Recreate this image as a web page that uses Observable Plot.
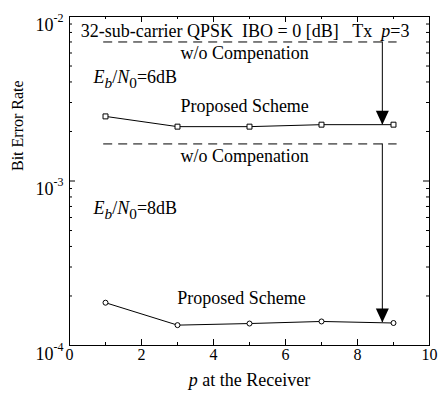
<!DOCTYPE html>
<html><head><meta charset="utf-8">
<script src="https://cdn.jsdelivr.net/npm/d3@7"></script>
<script src="https://cdn.jsdelivr.net/npm/@observablehq/plot@0.6"></script>
<style>
body{margin:0;background:#fff}
svg{font-family:"Liberation Serif","DejaVu Serif",serif;background:#fff}
</style>
</head><body><div id="chart"></div>
<script>
// ---- data ----
const pValues = [1, 3, 5, 7, 9];
const ber6dB = [2.47e-3, 2.14e-3, 2.14e-3, 2.2e-3, 2.2e-3];
const ber8dB = [1.82e-4, 1.33e-4, 1.36e-4, 1.40e-4, 1.37e-4];
const woComp6dB = 7.0e-3;
const woComp8dB = 1.68e-3;
const woCompRange = [0.95, 9.1];
const arrowP = 8.69;
const arrowTip6dB = 2.2e-3;
const arrowTip8dB = 1.38e-4;
const xMajorTicks = [0, 2, 4, 6, 8, 10];
const xMinorTicks = [1, 3, 5, 7, 9];
const yMajorTicks = [1e-4, 1e-3, 1e-2];
const yTickExponents = ["-4", "-3", "-2"];
const yMinorTicks = [2e-4, 3e-4, 4e-4, 5e-4, 6e-4, 7e-4, 8e-4, 9e-4,
                     2e-3, 3e-3, 4e-3, 5e-3, 6e-3, 7e-3, 8e-3, 9e-3];
const xLabel = "p at the Receiver";
const yLabel = "Bit Error Rate";
const titleText = "32-sub-carrier QPSK\u00a0\u00a0IBO = 0 [dB]\u00a0\u00a0\u00a0Tx\u00a0\u00a0p=3";
const lblWo = "w/o Compenation";
const lblProp = "Proposed Scheme";
const lbl6 = "Eb/N0=6dB";
const lbl8 = "Eb/N0=8dB";

const s6 = pValues.map((p, i) => ({p, ber: ber6dB[i]}));
const s8 = pValues.map((p, i) => ({p, ber: ber8dB[i]}));
const dashed = [woComp6dB, woComp8dB];
const arrows = [{p: arrowP, from: woComp6dB, to: arrowTip6dB}, {p: arrowP, from: woComp8dB, to: arrowTip8dB}];

const W = 440, H = 402, mL = 69, mR = 11, mT = 16, mB = 57;
const innerW = W - mL - mR, innerH = H - mT - mB;
const maj = 6, mnr = 3;

const plot = Plot.plot({
  width: W, height: H,
  marginLeft: mL, marginRight: mR, marginTop: mT, marginBottom: mB,
  x: {domain: [0, 10]},
  y: {type: "log", domain: [1e-4, 1e-2]},
  axis: null,
  style: {fontFamily: "'Liberation Serif', serif", color: "black", background: "white"},
  marks: [
    Plot.frame({stroke: "black"}),
    // inward ticks
    Plot.ruleX(xMajorTicks, {x: d => d, insetTop: innerH - maj, stroke: "black"}),
    Plot.ruleX(xMajorTicks, {x: d => d, insetBottom: innerH - maj, stroke: "black"}),
    Plot.ruleX(xMinorTicks, {x: d => d, insetTop: innerH - mnr, stroke: "black"}),
    Plot.ruleX(xMinorTicks, {x: d => d, insetBottom: innerH - mnr, stroke: "black"}),
    Plot.ruleY(yMajorTicks, {y: d => d, insetRight: innerW - maj, stroke: "black"}),
    Plot.ruleY(yMajorTicks, {y: d => d, insetLeft: innerW - maj, stroke: "black"}),
    Plot.ruleY(yMinorTicks, {y: d => d, insetRight: innerW - mnr, stroke: "black"}),
    Plot.ruleY(yMinorTicks, {y: d => d, insetLeft: innerW - mnr, stroke: "black"}),
    // tick labels
    Plot.text(xMajorTicks, {x: d => d, y: yMajorTicks[0], text: d => String(d), dy: 14, lineAnchor: "bottom", fontSize: 16, fill: "black"}),
    Plot.text(yMajorTicks, {x: 0, y: d => d, text: () => "10", dx: -16, dy: 14, textAnchor: "end", lineAnchor: "bottom", fontSize: 18, fill: "black"}),
    Plot.text(yMajorTicks, {x: 0, y: d => d, text: (d, i) => yTickExponents[i], dx: -16, dy: 5, textAnchor: "start", lineAnchor: "bottom", fontSize: 12, fill: "black"}),
    // axis labels
    Plot.text([xLabel], {frameAnchor: "bottom", text: d => d, dy: 40, lineAnchor: "bottom", fontSize: 18, fill: "black"}),
    Plot.text([yLabel], {frameAnchor: "left", text: d => d, rotate: -90, dx: -52, dy: -10, fontSize: 16, fill: "black"}),
    // dashed w/o compensation
    Plot.ruleY(dashed, {y: d => d, x1: woCompRange[0], x2: woCompRange[1], stroke: "black", strokeDasharray: "9,6"}),
    // arrows
    Plot.ruleX(arrows, {x: "p", y1: "from", y2: "to", stroke: "black"}),
    Plot.vector(arrows, {x: "p", y: "to", rotate: 180, length: 14, shape: "spike", r: 6.5, anchor: "end", fill: "black", stroke: "none"}),
    // series
    Plot.line(s6, {x: "p", y: "ber", stroke: "black", strokeWidth: 1}),
    Plot.dot(s6, {x: "p", y: "ber", symbol: "square", r: 2.8, stroke: "black", fill: "white", strokeWidth: 1}),
    Plot.line(s8, {x: "p", y: "ber", stroke: "black", strokeWidth: 1}),
    Plot.dot(s8, {x: "p", y: "ber", symbol: "circle", r: 2.5, stroke: "black", fill: "white", strokeWidth: 1}),
    // annotations
    Plot.text([titleText], {x: 0.31, y: 7.5e-3, text: d => d, textAnchor: "start", lineAnchor: "bottom", fontSize: 18, fill: "black"}),
    Plot.text([lblWo], {x: 3.08, y: 5.55e-3, text: d => d, textAnchor: "start", lineAnchor: "bottom", fontSize: 18, fill: "black"}),
    Plot.text([lbl6], {x: 0.67, y: 3.92e-3, text: d => d, textAnchor: "start", lineAnchor: "bottom", fontSize: 18, fill: "black"}),
    Plot.text([lblProp], {x: 3.08, y: 2.62e-3, text: d => d, textAnchor: "start", lineAnchor: "bottom", fontSize: 18, fill: "black"}),
    Plot.text([lblWo], {x: 3.08, y: 1.305e-3, text: d => d, textAnchor: "start", lineAnchor: "bottom", fontSize: 18, fill: "black"}),
    Plot.text([lbl8], {x: 0.67, y: 6.26e-4, text: d => d, textAnchor: "start", lineAnchor: "bottom", fontSize: 18, fill: "black"}),
    Plot.text([lblProp], {x: 2.99, y: 1.80e-4, text: d => d, textAnchor: "start", lineAnchor: "bottom", fontSize: 18, fill: "black"})
  ]
});

// rich text: italics and subscripts
const rich = {};
rich[lbl6] = [["E","i"],["b","i sub"],["/",""],["N","i"],["0","sub"],["=6dB",""]];
rich[lbl8] = [["E","i"],["b","i sub"],["/",""],["N","i"],["0","sub"],["=8dB",""]];
rich[xLabel] = [["p","i"],[" at the Receiver",""]];
rich[titleText] = [[titleText.slice(0, -3),""],["p","i"],["=3",""]];
const NS = "http://www.w3.org/2000/svg";
plot.querySelectorAll("text").forEach(t => {
  const spec = rich[t.textContent];
  if (!spec) return;
  t.textContent = "";
  let shift = 0;
  for (const [s, f] of spec) {
    const ts = document.createElementNS(NS, "tspan");
    ts.textContent = s;
    if (f.includes("i")) ts.setAttribute("font-style", "italic");
    const want = f.includes("sub") ? 5 : 0;
    if (want !== shift) { ts.setAttribute("dy", want - shift); shift = want; }
    if (f.includes("sub")) ts.setAttribute("font-size", "0.85em");
    t.appendChild(ts);
  }
});
document.getElementById("chart").appendChild(plot);
</script>
</body></html>
